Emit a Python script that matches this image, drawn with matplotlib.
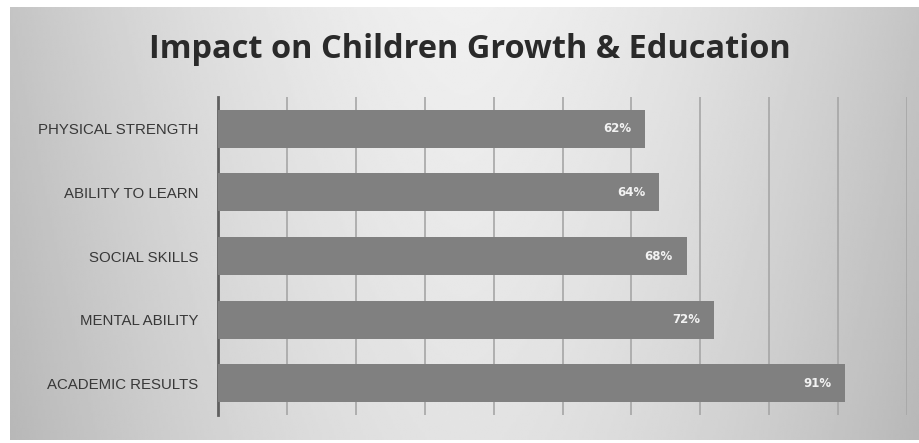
import matplotlib
matplotlib.use("Agg")
import matplotlib.pyplot as plt
import numpy as np

categories = ["PHYSICAL STRENGTH", "ABILITY TO LEARN", "SOCIAL SKILLS",
              "MENTAL ABILITY", "ACADEMIC RESULTS"]
percent = [62, 64, 68, 72, 91]
grid_ticks = [10, 20, 30, 40, 50, 60, 70, 80, 90, 100]

W, H = 919, 443
fig = plt.figure(figsize=(W / 100, H / 100), dpi=100)
fig.patch.set_facecolor("white")

# grey panel with a soft light centre and darker sides
bg = fig.add_axes([10 / W, 3 / H, (W - 10) / W, (H - 10) / H])
xs = np.linspace(-1, 1, 400)
ys = np.linspace(-1, 1, 200)
gx, gy = np.meshgrid(xs, ys)
shade = 0.94 - 0.17 * np.abs(gx) ** 1.6 - 0.05 * (gy + 1) / 2
bg.imshow(shade, cmap="gray", vmin=0, vmax=1, aspect="auto",
          extent=[0, 1, 0, 1], interpolation="bilinear")
bg.set_axis_off()

ax = fig.add_axes([218 / W, 28 / H, 689 / W, 318 / H])
ax.set_facecolor("none")
y = np.arange(len(categories))
bars = ax.barh(y, percent, height=0.6, color="#808080", zorder=3)
ax.set_xlim(0, 100)
ax.set_ylim(len(categories) - 0.5, -0.5)
ax.set_xticks(grid_ticks)
ax.set_xticklabels([])
ax.tick_params(axis="x", length=0)
ax.grid(axis="x", color="#a6a6a6", linewidth=1.2, zorder=1)
ax.set_yticks(y)
ax.set_yticklabels(categories, fontsize=10.8, color="#383838",
                   family="Liberation Sans")
ax.tick_params(axis="y", length=0, pad=14)
for side in ["top", "right", "bottom"]:
    ax.spines[side].set_visible(False)
ax.spines["left"].set_color("#606060")
ax.spines["left"].set_linewidth(2)

for bar, val in zip(bars, percent):
    ax.text(bar.get_width() - 2, bar.get_y() + bar.get_height() / 2,
            f"{val}%", ha="right", va="center", color="#f2f2f2",
            fontsize=8.5, fontweight="bold", zorder=4)

fig.text(470 / W, 1 - 49 / H, "Impact on Children Growth & Education",
         ha="center", va="center", fontsize=23.4, fontweight="bold",
         color="#2a2a2a", family="Open Sans")

fig.savefig("out.png", dpi=100)
